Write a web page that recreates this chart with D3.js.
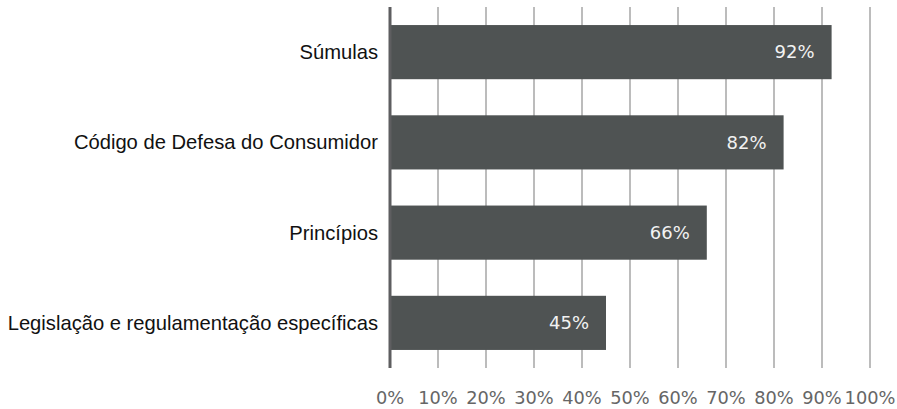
<!DOCTYPE html>
<html>
<head>
<meta charset="utf-8">
<script src="https://cdn.jsdelivr.net/npm/d3@7"></script>
<style>
  body { margin: 0; background: #fff; }
  svg { display: block; }
</style>
</head>
<body>
<svg width="897" height="409"></svg>
<script>
const categories = ["Súmulas", "Código de Defesa do Consumidor", "Princípios", "Legislação e regulamentação específicas"];
const values = [92, 82, 66, 45];
const ticks = [0, 10, 20, 30, 40, 50, 60, 70, 80, 90, 100];

let svg = d3.select("svg");

let x = d3.scaleLinear().domain([0, 100]).range([390, 870]);
let y = d3.scaleBand().domain(categories).range([7, 368])
    .paddingInner(0.4).paddingOuter(0.2);

// gridlines
svg.append("g")
    .selectAll("line")
    .data(ticks.slice(1))
    .enter()
    .append("line")
    .attr("x1", d => x(d)).attr("x2", d => x(d))
    .attr("y1", 7).attr("y2", 368)
    .attr("stroke", "#a6a6a6")
    .attr("stroke-width", 1.5);

// bars
svg.append("g")
    .selectAll("rect")
    .data(values)
    .enter()
    .append("rect")
    .attr("x", x(0))
    .attr("y", (d, i) => y(categories[i]))
    .attr("width", d => x(d) - x(0))
    .attr("height", y.bandwidth())
    .attr("fill", "#4f5353");

// value labels
svg.append("g")
    .selectAll("text")
    .data(values)
    .enter()
    .append("text")
    .attr("x", d => x(d) - 17)
    .attr("y", (d, i) => y(categories[i]) + y.bandwidth() / 2)
    .attr("dy", "0.35em")
    .attr("text-anchor", "end")
    .attr("fill", "#f2f2f2")
    .style("font-family", "'DejaVu Sans', sans-serif")
    .style("font-size", "18px")
    .text(d => d + "%");

// y axis line
svg.append("line")
    .attr("x1", x(0)).attr("x2", x(0))
    .attr("y1", 7).attr("y2", 368)
    .attr("stroke", "#5e5e60")
    .attr("stroke-width", 3);

// category labels
svg.append("g")
    .selectAll("text")
    .data(categories)
    .enter()
    .append("text")
    .attr("x", 378)
    .attr("y", d => y(d) + y.bandwidth() / 2)
    .attr("dy", "0.35em")
    .attr("text-anchor", "end")
    .attr("fill", "#111")
    .style("font-family", "'Liberation Sans', Arial, sans-serif")
    .style("font-size", "20.2px")
    .text(d => d);

// x tick labels
svg.append("g")
    .selectAll("text")
    .data(ticks)
    .enter()
    .append("text")
    .attr("x", d => x(d))
    .attr("y", 398)
    .attr("dy", "0.35em")
    .attr("text-anchor", "middle")
    .attr("fill", "#666")
    .style("font-family", "'DejaVu Sans', sans-serif")
    .style("font-size", "17.8px")
    .text(d => d + "%");
</script>
</body>
</html>
